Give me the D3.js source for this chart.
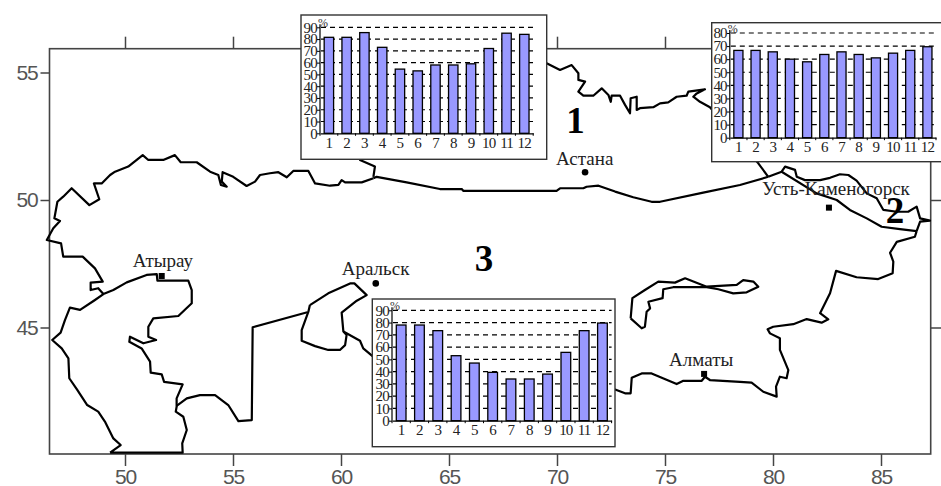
<!DOCTYPE html>
<html><head><meta charset="utf-8">
<script src="https://cdn.jsdelivr.net/npm/d3@7"></script>
<style>html,body{margin:0;padding:0;background:#fff;overflow:hidden}svg{display:block}</style>
</head><body><svg id="c" width="941" height="486"></svg>
<script>
// ---------- data ----------
const months = ["1","2","3","4","5","6","7","8","9","10","11","12"];
const region1Values = [81.5,81.5,85.5,73,54.5,53,58,58,59,72,85,84];
const region2Values = [66.7,66.7,65.6,60,58,63.6,65.6,63.6,61,64.6,66.7,69.5];
const region3Values = [78,78,73.4,53,47,39.4,34,34,38,55.7,73.4,79.6];
const lonTicks = [50,55,60,65,70,75,80,85];
const latTicks = [45,50,55];
const regionNames = ["1","2","3"];
const regionLon = [70.86,85.65,66.62];
const regionLat = [52.64,49.1,47.2];
const cityNames = ["Астана","Усть-Каменогорск","Аральск","Атырау","Алматы"];
const cityLon = [71.30,82.59,61.61,51.70,76.81];
const cityLat = [51.09,49.70,46.73,47.02,43.18];
const caspian = [[49.31,40.09],[49.80,40.39],[49.46,40.65],[49.07,41.31],[48.76,41.70],[48.25,41.96],[47.79,42.55],[47.42,43.01],[47.38,43.79],[47.07,44.18],[46.63,44.51],[47.02,44.80],[47.22,45.29],[47.45,45.78],[47.92,45.69],[48.61,46.08],[49.0,46.31],[49.46,46.47],[50.08,46.77],[51.0,47.06],[51.47,47.09],[51.5,46.84],[52.93,46.84],[53.09,46.47],[53.09,45.95],[52.47,45.45],[51.31,45.36],[51.08,45.03],[51.08,44.64],[51.44,44.51],[50.85,44.38],[50.23,44.64],[50.2,44.44],[50.77,44.18],[51.16,43.66],[51.19,43.23],[51.7,43.16],[51.81,42.87],[52.67,42.77],[52.39,42.22],[52.39,41.89],[52.35,41.70],[52.7,41.50],[52.86,40.98],[52.65,40.46],[52.67,40.09],[49.31,40.09]];
const southWest = [[52.39,41.93],[52.86,42.22],[53.47,42.35],[54.17,42.35],[54.78,41.96],[55.25,41.33],[55.87,41.37],[55.91,45.01],[58.44,45.60]];
const aral = [[58.56,45.88],[59.41,46.34],[60.42,46.73],[60.62,46.73],[61.19,46.27],[60.73,46.05],[60.03,45.58],[60.11,44.84],[60.26,44.71],[60.19,44.31],[59.95,44.12],[59.41,44.12],[58.8,44.27],[58.18,44.48],[58.18,44.90],[58.49,45.62],[58.56,45.88]];
const aralBranch = [[60.11,44.84],[60.88,44.48],[61.03,44.18],[61.5,43.85]];
const northBorder = [[49.0,46.31],[48.76,46.54],[48.41,46.47],[48.41,46.76],[48.97,46.8],[48.61,47.32],[48.04,47.78],[47.38,47.78],[47.14,47.78],[47.04,48.30],[46.38,48.43],[46.68,48.89],[46.99,49.18],[46.73,49.28],[46.87,49.93],[47.14,50.13],[47.53,50.46],[48.35,49.8],[48.81,50.03],[48.56,50.65],[48.92,50.65],[49.31,50.98],[49.54,51.11],[50.15,51.31],[50.82,51.76],[51.08,51.57],[51.77,51.57],[52.31,51.76],[52.58,51.48],[53.32,51.48],[53.94,51.11],[54.32,50.98],[54.44,50.59],[54.71,50.52],[54.48,50.72],[54.52,51.09],[55.01,50.91],[55.63,50.55],[56.02,50.72],[56.25,50.98],[56.71,51.05],[57.10,51.09],[57.49,50.89],[57.79,51.14],[58.49,51.14],[58.80,50.65],[59.49,50.56],[59.88,50.59],[60.03,50.78],[60.19,50.69],[60.96,50.69],[61.5,50.85]];
const divide13 = [[61.5,50.85],[61.65,50.91],[63.04,50.69],[64.58,50.43],[65.59,50.43],[65.66,50.36],[69.98,50.36],[70.14,50.46],[71.22,50.46],[71.37,50.52],[71.92,50.56],[72.69,50.33],[73.53,50.11],[74.38,49.93],[74.77,49.93],[76.77,50.29],[78.47,50.59],[79.78,50.91]];
const northRussia = [[61.5,50.91],[61.57,51.31],[60.88,51.57],[69.52,55.36],[70.14,55.10],[70.68,55.29],[70.99,54.97],[70.99,54.71],[71.30,54.64],[70.99,54.25],[71.22,54.09],[71.68,54.09],[72.07,54.38],[72.38,54.12],[72.49,53.85],[72.53,54.09],[72.92,54.09],[73.15,53.73],[73.38,53.40],[73.41,53.99],[73.69,54.05],[73.69,53.53],[73.84,53.60],[74.46,53.64],[74.77,53.79],[75.15,53.83],[75.54,54.05],[76.0,54.09],[76.08,54.25],[76.85,54.34],[76.47,54.18],[76.31,54.05],[76.62,53.85],[77.08,53.64],[79.32,51.44],[79.78,50.91]];
const northEast = [[79.78,50.91],[80.4,51.11],[80.56,51.31],[81.02,51.18],[81.1,50.91],[81.48,50.78],[82.18,50.78],[82.64,50.87],[83.10,51.01],[83.49,50.98],[83.87,50.76],[84.34,50.26],[84.80,50.07],[85.11,49.61],[85.73,49.54],[86.26,49.54],[86.65,49.74],[86.81,49.28],[87.27,49.19],[86.81,49.15],[86.65,48.78]];
const divide23 = [[80.4,51.11],[82.02,50.26],[82.95,50],[83.56,49.61],[84.34,49.28],[85.03,48.95],[85.88,48.86],[86.65,48.78]];
const southEast = [[86.65,48.78],[86.57,48.56],[85.73,48.36],[85.42,47.93],[85.57,47.58],[85.54,47.13],[84.87,46.90],[83.87,46.97],[82.92,47.22],[82.64,46.34],[82.18,45.56],[82.56,45.32],[82.25,45.19],[81.56,45.33],[80.94,45.13],[80.01,45.03],[79.75,44.93],[79.86,44.77],[80.32,44.58],[80.32,44.12],[80.71,43.33],[80.63,43.01],[80.32,43.07],[80.14,42.68],[80.17,42.29],[79.55,42.48],[79.01,42.84],[78.47,42.87],[77.08,42.94],[76.85,43.07],[76.70,42.91],[75.85,42.91],[75.54,42.78],[74.38,43.20],[73.92,43.20],[73.46,43.03],[73.41,42.42],[73.15,42.42],[72.6,42.6]];
const balkhash = [[73.41,45.36],[73.49,46.15],[74.07,46.47],[74.69,46.8],[75.46,46.76],[75.93,46.93],[76.93,46.6],[78.32,46.67],[78.62,46.86],[79.09,46.8],[79.32,46.6],[78.78,46.38],[78.16,46.34],[77.47,46.5],[76.93,46.58],[75.38,46.58],[74.92,46.5],[74.89,46.15],[74.23,46.01],[74.31,45.75],[74.15,45.62],[74.07,45.03],[73.92,44.97],[73.41,45.36]];
const borderLines = [caspian,southWest,aral,aralBranch,northBorder,divide13,northRussia,northEast,divide23,southEast,balkhash];

// ---------- layout ----------
const svg = d3.select("#c");
const FRAME = {l:49.5,r:930.7,t:48.7,b:454};
const x = d3.scaleLinear().domain([50,85]).range([125,881]);
const y = d3.scaleLinear().domain([45,55]).range([327.5,72.5]);
const AXC = "#444";

svg.append("rect").attr("x",FRAME.l).attr("y",FRAME.t).attr("width",FRAME.r-FRAME.l).attr("height",FRAME.b-FRAME.t)
  .attr("fill","#fff").attr("stroke",AXC).attr("stroke-width",1.6);

function mainAxis(gen,tx,ty){
  const g = svg.append("g").attr("transform",`translate(${tx},${ty})`).call(gen);
  g.select(".domain").remove();
  g.selectAll(".tick line").attr("stroke",AXC).attr("stroke-width",1.5);
  g.selectAll(".tick text").attr("font-family","'Liberation Sans',sans-serif").attr("font-size",21)
    .attr("letter-spacing","-1.2px").attr("fill","#555");
  return g;
}
mainAxis(d3.axisBottom(x).tickValues(lonTicks).tickSize(12).tickPadding(3).tickFormat(d3.format("d")),0,FRAME.b);
mainAxis(d3.axisTop(x).tickValues(lonTicks).tickSize(12).tickFormat(""),0,FRAME.t);
mainAxis(d3.axisLeft(y).tickValues(latTicks).tickSize(9).tickPadding(3).tickFormat(d3.format("d")),FRAME.l,0);
mainAxis(d3.axisRight(y).tickValues(latTicks).tickSize(11).tickFormat(""),FRAME.r,0);

const line = d3.line().x(d=>x(d[0])).y(d=>y(d[1]));
svg.append("g").selectAll("path").data(borderLines).join("path")
  .attr("d",line).attr("fill","none").attr("stroke","#000").attr("stroke-width",2.2).attr("stroke-linejoin","round");

// cities
const labelDx = [-29,-67,-34,-29,-35];
const labelDy = [-7,-13,-8.5,-8.5,-8];
const squareCity = [false,true,false,true,true];
const cities = svg.append("g");
cityNames.forEach((n,i)=>{
  const cx=x(cityLon[i]), cy=y(cityLat[i]);
  if(squareCity[i]) cities.append("rect").attr("x",cx-3).attr("y",cy-3).attr("width",6).attr("height",6).attr("fill","#000");
  else cities.append("circle").attr("cx",cx).attr("cy",cy).attr("r",3.3).attr("fill","#000");
  cities.append("text").attr("x",cx+labelDx[i]).attr("y",cy+labelDy[i]).text(n)
    .attr("font-family","'Liberation Serif',serif").attr("font-size",19).attr("fill","#222");
});
// region numbers
regionNames.forEach((n,i)=>{
  svg.append("text").attr("x",x(regionLon[i])).attr("y",y(regionLat[i])).attr("text-anchor","middle")
    .attr("font-family","'Liberation Serif',serif").attr("font-weight","bold").attr("font-size",37).text(n);
});

// insets
function inset(values,top,fl,fr,ft,fb,x0,x1,yBase,yTop){
  const g = svg.append("g");
  g.append("rect").attr("x",fl).attr("y",ft).attr("width",fr-fl).attr("height",fb-ft)
    .attr("fill","#fff").attr("stroke","#333").attr("stroke-width",1.4);
  const bx = d3.scaleBand().domain(months).range([x0,x1]).paddingInner(0.47).paddingOuter(0.235);
  const by = d3.scaleLinear().domain([0,top]).range([yBase,yTop]);
  const ticks = d3.range(10,top+1,10);
  g.append("g").selectAll("line").data(ticks).join("line")
    .attr("x1",x0+1).attr("x2",x1).attr("y1",d=>by(d)).attr("y2",d=>by(d))
    .attr("stroke","#000").attr("stroke-width",1.2).attr("stroke-dasharray","5,4");
  g.append("g").selectAll("rect").data(values).join("rect")
    .attr("x",(d,i)=>bx(months[i])).attr("width",bx.bandwidth())
    .attr("y",d=>by(d)).attr("height",d=>yBase-by(d))
    .attr("fill","#9999FF").attr("stroke","#000").attr("stroke-width",1.3);
  const ay = g.append("g").attr("transform",`translate(${x0},0)`)
    .call(d3.axisLeft(by).tickValues(d3.range(0,top+1,10)).tickSize(3).tickPadding(0).tickFormat(d3.format("d")));
  const ax = g.append("g").attr("transform",`translate(0,${yBase})`)
    .call(d3.axisBottom(bx).tickSize(0).tickPadding(4));
  [ay,ax].forEach(a=>{
    a.selectAll(".domain").attr("stroke","#000").attr("stroke-width",1.2);
    a.selectAll(".tick text").attr("font-family","'Liberation Serif',serif").attr("font-size",15)
      .attr("letter-spacing","-0.8px").attr("fill","#222");
    a.selectAll(".tick line").attr("stroke","#000");
  });
  ay.select(".domain").attr("d",`M0,${yBase}V${yTop-3}`);
  g.append("g").selectAll("line").data(d3.range(0,13)).join("line")
    .attr("x1",d=>x0+d*bx.step()).attr("x2",d=>x0+d*bx.step()).attr("y1",yBase).attr("y2",yBase+2.5)
    .attr("stroke","#000").attr("stroke-width",1);
  g.append("text").attr("x",x0-2).attr("y",yTop-0.5).text("%").attr("font-family","'Liberation Serif',serif").attr("font-size",12).attr("fill","#333");
}
inset(region1Values,90,301,546.7,15,159.3,320,533.2,133.3,27.3);
inset(region2Values,80,711.7,945,22.7,161.7,729.8,936,137.7,33);
inset(region3Values,90,372.3,615,299,446.7,392,611.6,420.7,310.3);
</script></body></html>
